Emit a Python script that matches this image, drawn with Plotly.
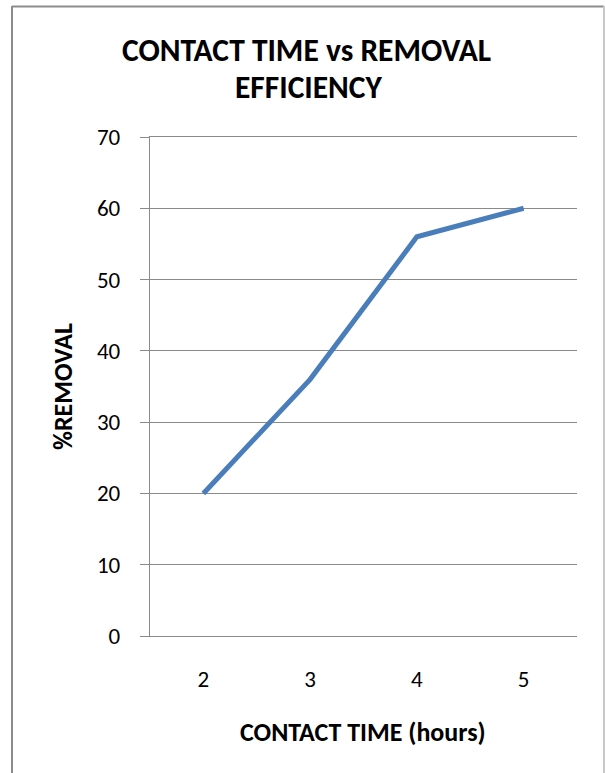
import plotly.graph_objects as go

categories = ["2", "3", "4", "5"]
removal = [20, 36, 56, 60]
y_ticks = [0, 10, 20, 30, 40, 50, 60, 70]

title_line1 = "CONTACT TIME vs REMOVAL"
title_line2 = "EFFICIENCY"
x_title = "CONTACT TIME (hours)"
y_title = "%REMOVAL"

FONT = "Carlito, Calibri, Lato, sans-serif"
W, H = 605, 773
L, R, T, B = 150, 28, 137, 137
pw, ph = W - L - R, H - T - B

def px(x):
    return (x - L) / pw

def py(y):
    return (H - B - y) / ph

GRID = "#8A8A8A"

fig = go.Figure()
fig.add_trace(go.Scatter(
    x=categories, y=removal, mode="lines",
    line=dict(color="#4A7EBB", width=5),
    showlegend=False,
))

fig.update_layout(
    width=W, height=H,
    margin=dict(l=L, r=R, t=T, b=B),
    paper_bgcolor="white", plot_bgcolor="white",
    font=dict(family=FONT, color="black", size=23),
    xaxis=dict(
        type="category", range=[-0.5, 3.5],
        showgrid=False, zeroline=False,
        showline=True, mirror=True, linecolor=GRID, linewidth=1.3,
        ticks="", ticklabelstandoff=22,
        tickfont=dict(size=23),
    ),
    yaxis=dict(
        range=[0, 70], tickvals=y_ticks,
        showgrid=True, gridcolor=GRID, gridwidth=1.3,
        zeroline=False,
        showline=True, linecolor=GRID, linewidth=1.3,
        ticks="outside", ticklen=9, tickcolor=GRID, tickwidth=1.3,
        ticklabelstandoff=15,
        tickfont=dict(size=23),
    ),
    annotations=[
        dict(text="<b>%s</b>" % title_line1, x=px(306), y=py(50), xref="paper", yref="paper",
             showarrow=False, xanchor="center", yanchor="middle", font=dict(size=31.5)),
        dict(text="<b>%s</b>" % title_line2, x=px(309), y=py(87), xref="paper", yref="paper",
             showarrow=False, xanchor="center", yanchor="middle", font=dict(size=31.5)),
        dict(text="<b>%s</b>" % x_title, x=px(363), y=py(732), xref="paper", yref="paper",
             showarrow=False, xanchor="center", yanchor="middle", font=dict(size=26)),
        dict(text="<b>%s</b>" % y_title, x=px(63), y=py(387), xref="paper", yref="paper",
             showarrow=False, xanchor="center", yanchor="middle", textangle=-90, font=dict(size=26)),
    ],
    shapes=[
        dict(type="line", xref="paper", yref="paper", x0=px(12), x1=px(12), y0=py(6), y1=py(790),
             line=dict(color="#8C8C8C", width=2)),
        dict(type="line", xref="paper", yref="paper", x0=px(12), x1=px(604), y0=py(6.5), y1=py(6.5),
             line=dict(color="#8C8C8C", width=2)),
        dict(type="line", xref="paper", yref="paper", x0=px(604), x1=px(604), y0=py(6), y1=py(790),
             line=dict(color="#C8C8C8", width=2)),
    ],
)

fig.write_html(
    "out.html",
    config={"displayModeBar": False},
    post_script="document.body.style.margin='0px';document.body.style.overflow='hidden';",
)
